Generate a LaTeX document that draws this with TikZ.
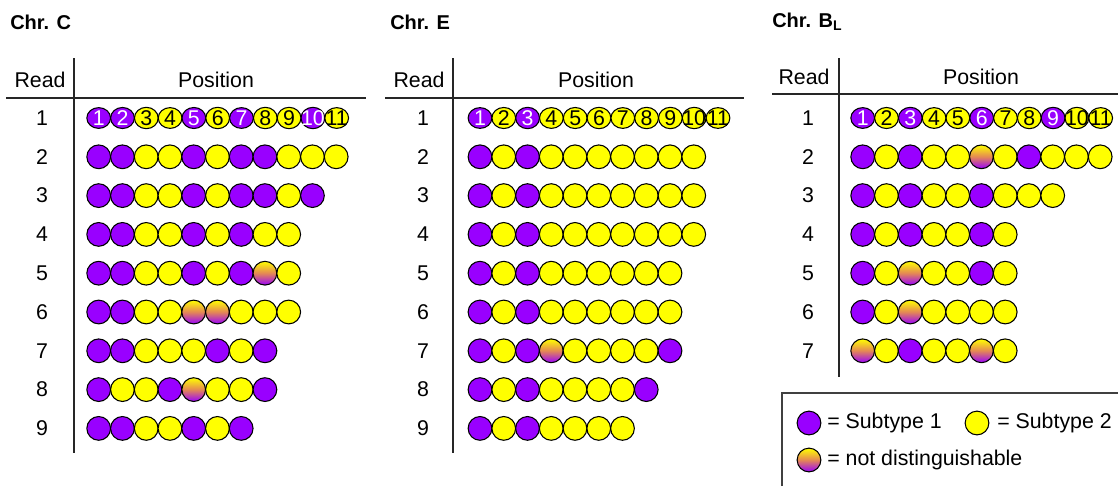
\documentclass[tikz,border=0pt]{standalone}
\usepackage{fontspec}
\setmainfont{Liberation Sans}
\usetikzlibrary{shapes.geometric}
\definecolor{violette}{RGB}{153,0,255}
\definecolor{jaune}{RGB}{255,255,0}
\definecolor{orangee}{RGB}{228,135,85}
\definecolor{cadre}{RGB}{64,64,64}

% une lecture : #1 chromosome, #2 numero, #3 x du numero, #4 x de la premiere bille, #5 couleurs
\newcommand{\lecture}[5]{%
\node[num] (n#1#2) at (#3, 79.2+38.8*#2) {#2};
\foreach \c [count=\i] in {#5}
  \node[bille, \c] (#1#2-\i) at (#4+23.75*\i-23.75, 79.2+38.8*#2) {};
}
% la premiere lecture, avec les positions
\newcommand{\lectureun}[4]{%
\node[num] (n#11) at (#2, 118) {1};
\foreach \c [count=\i] in {#4}
  \node[tete, \c] (#11-\i) at (#3+23.8*\i-23.8, 118) {\makebox[0pt]{\fontsize{16}{16}\selectfont\i}};
}

\begin{document}
\begin{tikzpicture}[x=0.75pt, y=-0.75pt, font=\fontsize{16}{19}\selectfont]
\tikzstyle{bille} = [draw, circle, inner sep=0pt, minimum size=17.8pt, line width=0.8pt];
\tikzstyle{tete} = [draw, ellipse, inner sep=0pt, minimum width=17.8pt, minimum height=15.4pt, line width=0.8pt];
\tikzstyle{vi} = [fill=violette, text=white];
\tikzstyle{ja} = [fill=jaune, text=black];
\tikzstyle{mx} = [top color=jaune, bottom color=violette, middle color=orangee];
\tikzstyle{num} = [inner sep=0pt];
\tikzstyle{titre} = [anchor=west, inner sep=0pt, font=\fontsize{15}{18}\selectfont\bfseries];
\tikzstyle{regle} = [line width=1.4pt, draw=black!85];
\tikzstyle{leg} = [anchor=west, inner sep=0pt];
\useasboundingbox (0,0) rectangle (1118,486);

% Chr. C
\node[titre] (tC) at (10,22) {Chr. C};
\node (readC) at (40,80) {Read};
\node (posC) at (216,80) {Position};
\draw[regle] (74,58) -- (74,453);
\draw[regle] (6,98) -- (366,98);
\lectureun{C}{42}{98.7}{vi,vi,ja,ja,vi,ja,vi,ja,ja,vi,ja}
\lecture{C}{2}{42}{98.7}{vi,vi,ja,ja,vi,ja,vi,vi,ja,ja,ja}
\lecture{C}{3}{42}{98.7}{vi,vi,ja,ja,vi,ja,vi,vi,ja,vi}
\lecture{C}{4}{42}{98.7}{vi,vi,ja,ja,vi,ja,vi,ja,ja}
\lecture{C}{5}{42}{98.7}{vi,vi,ja,ja,vi,ja,vi,mx,ja}
\lecture{C}{6}{42}{98.7}{vi,vi,ja,ja,mx,mx,ja,ja,ja}
\lecture{C}{7}{42}{98.7}{vi,vi,ja,ja,ja,vi,ja,vi}
\lecture{C}{8}{42}{98.7}{vi,ja,ja,vi,mx,ja,ja,vi}
\lecture{C}{9}{42}{98.7}{vi,vi,ja,ja,vi,ja,vi}

% Chr. E
\node[titre] (tE) at (390,22) {Chr. E};
\node (readE) at (419,80) {Read};
\node (posE) at (596,80) {Position};
\draw[regle] (453,58) -- (453,453);
\draw[regle] (385,98) -- (744,98);
\lectureun{E}{423}{480}{vi,ja,vi,ja,ja,ja,ja,ja,ja,ja,ja}
\lecture{E}{2}{423}{480}{vi,ja,vi,ja,ja,ja,ja,ja,ja,ja}
\lecture{E}{3}{423}{480}{vi,ja,vi,ja,ja,ja,ja,ja,ja,ja}
\lecture{E}{4}{423}{480}{vi,ja,vi,ja,ja,ja,ja,ja,ja,ja}
\lecture{E}{5}{423}{480}{vi,ja,vi,ja,ja,ja,ja,ja,ja}
\lecture{E}{6}{423}{480}{vi,ja,vi,ja,ja,ja,ja,ja,ja}
\lecture{E}{7}{423}{480}{vi,ja,vi,mx,ja,ja,ja,ja,vi}
\lecture{E}{8}{423}{480}{vi,ja,vi,ja,ja,ja,ja,vi}
\lecture{E}{9}{423}{480}{vi,ja,vi,ja,ja,ja,ja}

% Chr. B_L
\node[titre] (tB) at (772,22) {Chr. B\textsubscript{L}};
\node (readB) at (804,77) {Read};
\node (posB) at (981,77) {Position};
\draw[regle] (839,58) -- (839,377);
\draw[regle] (772,94) -- (1118,94);
\lectureun{B}{808}{862.7}{vi,ja,vi,ja,ja,vi,ja,ja,vi,ja,ja}
\lecture{B}{2}{808}{862.7}{vi,ja,vi,ja,ja,mx,ja,vi,ja,ja,ja}
\lecture{B}{3}{808}{862.7}{vi,ja,vi,ja,ja,vi,ja,ja,ja}
\lecture{B}{4}{808}{862.7}{vi,ja,vi,ja,ja,vi,ja}
\lecture{B}{5}{808}{862.7}{vi,ja,mx,ja,ja,vi,ja}
\lecture{B}{6}{808}{862.7}{vi,ja,mx,ja,ja,ja,ja}
\lecture{B}{7}{808}{862.7}{mx,ja,vi,ja,ja,mx,ja}

% legende
\draw[line width=1.4pt, draw=cadre] (782,486) -- (782,393) -- (1118,393);
\node[bille, vi] (lv) at (809,423) {};
\node[leg] (tv) at (827,423) {= Subtype 1};
\node[bille, ja] (lj) at (977,423) {};
\node[leg] (tj) at (997,423) {= Subtype 2};
\node[bille, mx] (lm) at (809,460) {};
\node[leg] (tm) at (827,460) {= not distinguishable};
\end{tikzpicture}
\end{document}
